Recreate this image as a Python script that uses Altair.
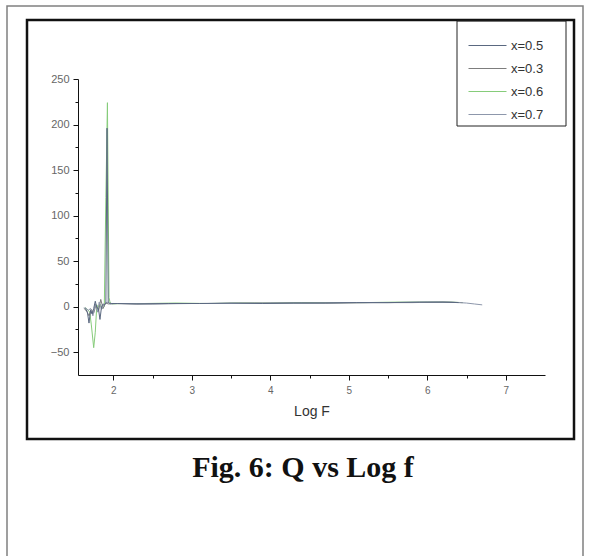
import altair as alt
import pandas as pd

# Q against log frequency for four compositions
SERIES_ORDER = ["x=0.5", "x=0.3", "x=0.6", "x=0.7"]
SERIES_COLORS = ["#5a6880", "#7d7d7d", "#86cc7a", "#8d97ab"]

logf_06 = [1.64, 1.67, 1.70, 1.72, 1.75, 1.77, 1.79, 1.81, 1.83, 1.86, 1.885, 1.905, 1.925,
           1.945, 1.96, 1.99, 2.1, 2.4, 2.8, 3.2, 3.6, 4.0, 4.4, 4.8, 5.2, 5.6, 6.0, 6.3, 6.45]
q_06 = [-1, -3, -6, -20, -45, -28, 2, -4, 3, -2, 0, 120, 224,
        10, 4, 3, 3.5, 3.5, 4, 3.5, 4, 4, 4.5, 4.5, 4.5, 5, 5, 5, 4.5]

logf_05 = [1.63, 1.65, 1.67, 1.69, 1.71, 1.73, 1.75, 1.77, 1.79, 1.81, 1.83, 1.85, 1.87, 1.89,
           1.905, 1.92, 1.935, 1.95, 1.98, 2.05, 2.3, 2.7, 3.1, 3.5, 3.9, 4.3, 4.7, 5.1, 5.5,
           5.9, 6.2, 6.4]
q_05 = [-1, -3, -6, -18, -4, -8, -2, 6, -1, -2, -14, 0, 3, 2,
        4, 196, 5, 4, 3.5, 3.5, 3, 3.5, 3.5, 4, 3.5, 4, 4, 4.5, 4.5,
        5, 5, 4.5]

logf_03 = [1.63, 1.66, 1.69, 1.72, 1.75, 1.78, 1.81, 1.84, 1.87, 1.90, 1.94, 2.0, 2.3, 2.8,
           3.3, 3.8, 4.3, 4.8, 5.3, 5.8, 6.2, 6.45]
q_03 = [-2, -5, -10, -3, -7, 2, -5, 8, -2, 4, 3, 3.5, 3, 3.5,
        3.5, 4, 4, 4, 4.5, 4.5, 5, 4.5]

logf_07 = [1.64, 1.68, 1.71, 1.74, 1.77, 1.80, 1.82, 1.85, 1.88, 1.92, 1.96, 2.05, 2.5, 3.0,
           3.5, 4.0, 4.5, 5.0, 5.5, 6.0, 6.3, 6.5, 6.6, 6.7]
q_07 = [-1, -4, -2, -10, 3, -6, 5, -3, 2, 5, 3, 3.5, 3, 3.5,
        3.5, 4, 4, 4.5, 4.5, 5, 5, 4, 3, 2]

CAPTION = "Fig. 6: Q vs Log f"
X_TITLE = "Log F"

rows = []
for name, xs, qs in [("x=0.6", logf_06, q_06), ("x=0.3", logf_03, q_03),
                     ("x=0.7", logf_07, q_07), ("x=0.5", logf_05, q_05)]:
    for a, b in zip(xs, qs):
        rows.append({"series": name, "logf": a, "q": b})
df = pd.DataFrame(rows)

x_ticks = [2, 2.5, 3, 3.5, 4, 4.5, 5, 5.5, 6, 6.5, 7]
y_ticks = [-50, -25, 0, 25, 50, 75, 100, 125, 150, 175, 200, 225, 250]

lines = alt.Chart(df).mark_line(strokeWidth=1).encode(
    x=alt.X(
        "logf:Q",
        scale=alt.Scale(domain=[1.55, 7.5], nice=False, zero=False),
        axis=alt.Axis(
            values=x_ticks,
            format="~g",
            labelExpr="datum.value % 1 === 0 ? datum.label : ''",
            tickSize={"condition": {"test": "datum.value % 1 === 0", "value": 5}, "value": 3},
            grid=False, domainColor="#111", tickColor="#111", domainWidth=1,
            labelFont="Liberation Sans", labelFontSize=10, labelColor="#666",
            labelPadding=5, title=X_TITLE, titleFont="Liberation Sans",
            titleFontSize=14, titleFontWeight="normal", titleColor="#333",
            titlePadding=9,
        ),
    ),
    y=alt.Y(
        "q:Q",
        scale=alt.Scale(domain=[-75, 250], nice=False),
        axis=alt.Axis(
            values=y_ticks,
            labelExpr="datum.value % 50 === 0 ? datum.label : ''",
            tickSize={"condition": {"test": "datum.value % 50 === 0", "value": 5}, "value": 3},
            grid=False, domainColor="#111", tickColor="#111", domainWidth=1,
            labelFont="Liberation Sans", labelFontSize=11, labelColor="#666",
            labelPadding=4, title=None,
        ),
    ),
    color=alt.Color(
        "series:N",
        scale=alt.Scale(domain=SERIES_ORDER, range=SERIES_COLORS),
        legend=alt.Legend(
            title=None, orient="none", legendX=403, legendY=-40,
            symbolType="M-3.8,0H3.8", symbolSize=100, symbolStrokeWidth=1,
            labelFont="Liberation Sans", labelFontSize=13, labelColor="#333",
            labelOffset=17, rowPadding=9, padding=0,
        ),
    ),
)

one = pd.DataFrame({"k": [0]})

# page border, figure frame and legend box
outer = alt.Chart(one).mark_rect(fillOpacity=0, stroke="#808080", strokeWidth=1.5).encode(
    x=alt.value(-71), x2=alt.value(505), y=alt.value(-73), y2=alt.value(520)
)
inner = alt.Chart(one).mark_rect(fillOpacity=0, stroke="#111", strokeWidth=2.5).encode(
    x=alt.value(-51), x2=alt.value(496), y=alt.value(-59), y2=alt.value(360)
)
legend_box = alt.Chart(one).mark_rect(fillOpacity=0, stroke="#222", strokeWidth=1).encode(
    x=alt.value(379), x2=alt.value(488), y=alt.value(-58), y2=alt.value(47)
)

caption = alt.Chart(pd.DataFrame({"caption": [CAPTION]})).mark_text(
    font="Liberation Serif", fontWeight="bold", fontSize=30, color="#111", baseline="middle"
).encode(text="caption:N", x=alt.value(225), y=alt.value(389))

chart = alt.layer(outer, inner, legend_box, lines, caption).properties(
    width=467,
    height=296,
    autosize=alt.AutoSizeParams(type="none"),
    padding={"left": 78, "top": 79, "right": 44, "bottom": 181},
    background="white",
).configure_view(stroke=None)

chart.save("out.html", embed_options={"renderer": "svg", "actions": False})
